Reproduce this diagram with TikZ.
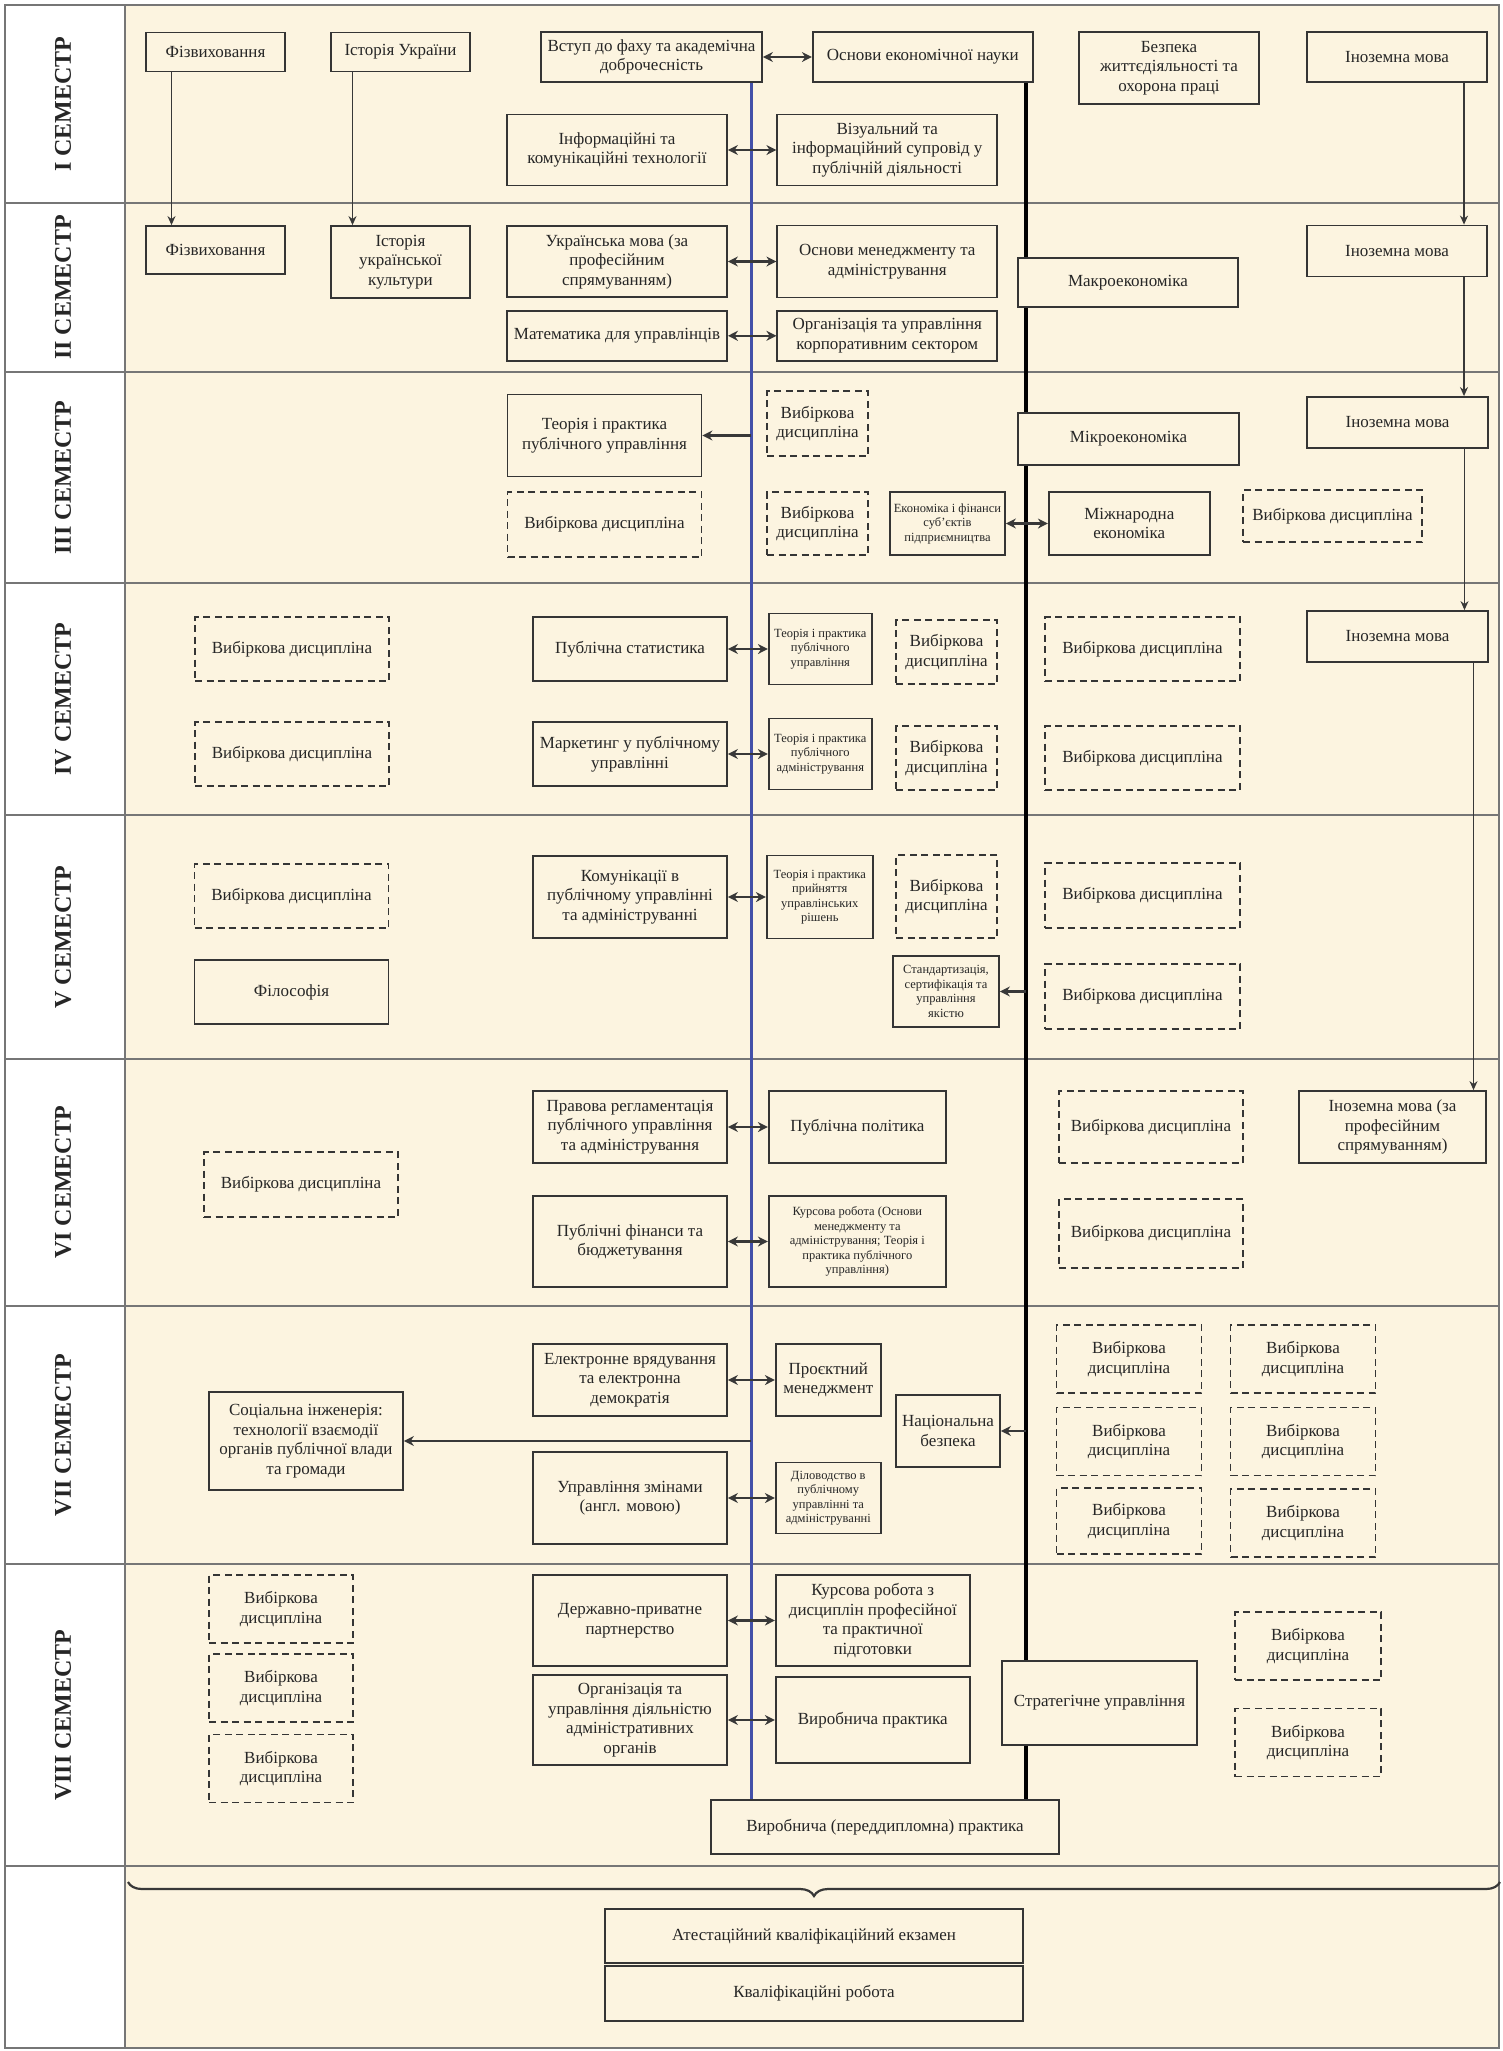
\documentclass[tikz,border=0pt]{standalone}
\usepackage{fontspec}
\setmainfont{Liberation Serif}
\usetikzlibrary{arrows.meta, positioning, decorations.pathreplacing}

\definecolor{cream}{HTML}{FCF4E0}
\definecolor{boxline}{HTML}{353535}
\definecolor{arrowgray}{HTML}{383838}
\definecolor{rowgray}{HTML}{767676}
\definecolor{lineblue}{HTML}{4350A8}

\tikzstyle{subject} = [rectangle, draw=boxline, fill=cream, line width=1.8pt, align=center, inner sep=1.5pt, text=black!85, font=\fontsize{17}{19.5}\selectfont]
\tikzstyle{elective} = [subject, dash pattern=on 7pt off 4.5pt]
\tikzstyle{smallsubj} = [subject, font=\fontsize{12.5}{14.5}\selectfont]
\tikzstyle{semester} = [rotate=90, text=black!85, font=\fontsize{24}{26}\selectfont\bfseries]
\tikzstyle{arrow} = [line width=2.2pt, draw=arrowgray, ->, >={Stealth[length=10pt,width=10pt]}]
\tikzstyle{dblarrow} = [arrow, <->]
\tikzstyle{thinarrow} = [line width=1.3pt, draw=arrowgray, ->, >={Stealth[length=9pt,width=8pt]}]
\tikzstyle{blueline} = [line width=3pt, draw=lineblue]
\tikzstyle{blackline} = [line width=3.5pt, draw=black]
\tikzstyle{rowline} = [line width=1.8pt, draw=rowgray]
\tikzstyle{groupbrace} = [decorate, decoration={brace, amplitude=14pt}, line width=2.2pt, draw=arrowgray]

\pgfdeclarelayer{back}
\pgfdeclarelayer{lines}
\pgfsetlayers{back,lines,main}

\begin{document}
\begin{tikzpicture}[x=1pt, y=-1pt]
\useasboundingbox (0,0) rectangle (1503,2051);

% Frame and semester rows
\begin{pgfonlayer}{back}
\fill[white] (5,5) rectangle (125,2048);
\fill[cream] (125,5) rectangle (1499,2048);
\draw[rowline] (5,5) rectangle (1499,2048);
\draw[rowline] (125,5) -- (125,2048);
\draw[rowline] (5,203) -- (1499,203);
\draw[rowline] (5,372) -- (1499,372);
\draw[rowline] (5,583) -- (1499,583);
\draw[rowline] (5,815) -- (1499,815);
\draw[rowline] (5,1059) -- (1499,1059);
\draw[rowline] (5,1306) -- (1499,1306);
\draw[rowline] (5,1564) -- (1499,1564);
\draw[rowline] (5,1866) -- (1499,1866);
\end{pgfonlayer}

\node (s1) [semester] at (63,104) {I СЕМЕСТР};
\node (s2) [semester] at (63,287.5) {II СЕМЕСТР};
\node (s3) [semester] at (63,477.5) {III СЕМЕСТР};
\node (s4) [semester] at (63,699) {IV СЕМЕСТР};
\node (s5) [semester] at (63,937) {V СЕМЕСТР};
\node (s6) [semester] at (63,1182.5) {VI СЕМЕСТР};
\node (s7) [semester] at (63,1435) {VII СЕМЕСТР};
\node (s8) [semester] at (63,1715) {VIII СЕМЕСТР};

\coordinate (bl) at (751,0);
\coordinate (bk) at (1026,0);

% Semester I
\node (fiz1) [subject, minimum width=139pt, minimum height=39pt] at (215.5,52) {Фізвиховання};
\node (ist1) [subject, minimum width=139pt, minimum height=39pt] at (400.5,52) {Історія України};
\node (vstup) [subject, minimum width=221pt, minimum height=50pt] at (651.5,57) {Вступ до фаху та академічна\\доброчесність};
\node (osnek) [subject, minimum width=220pt, minimum height=50pt, right=49pt of vstup] {Основи економічної науки};
\node (bzhd) [subject, minimum width=180pt, minimum height=72pt] at (1169,68) {Безпека\\життєдіяльності та\\охорона праці};
\node (in1) [subject, minimum width=180pt, minimum height=50pt] at (1397,57) {Іноземна мова};
\node (ikt) [subject, minimum width=220pt, minimum height=71pt] at (617,150) {Інформаційні та\\комунікаційні технології};
\node (viz) [subject, minimum width=220pt, minimum height=71pt, right=48.5pt of ikt] {Візуальний та\\інформаційний супровід у\\публічній діяльності};

% Semester II
\node (fiz2) [subject, minimum width=139pt, minimum height=48pt] at (215.5,250) {Фізвиховання};
\node (kult) [subject, minimum width=139pt, minimum height=72pt] at (400.5,262) {Історія\\української\\культури};
\node (ukrmova) [subject, minimum width=220pt, minimum height=71pt] at (617,261.5) {Українська мова (за\\професійним\\спрямуванням)};
\node (matem) [subject, minimum width=220pt, minimum height=50pt, below=12pt of ukrmova] {Математика для управлінців};
\node (osnmen) [subject, minimum width=220pt, minimum height=72pt, right=48.5pt of ukrmova] {Основи менеджменту та\\адміністрування};
\node (orgkorp) [subject, minimum width=220pt, minimum height=50pt, right=48.5pt of matem] {Організація та управління\\корпоративним сектором};
\node (makro) [subject, minimum width=220pt, minimum height=49pt] at (1128,282.5) {Макроекономіка};
\node (in2) [subject, minimum width=180pt, minimum height=51pt] at (1397,251) {Іноземна мова};

% Semester III
\node (tpu) [subject, minimum width=194pt, minimum height=82pt] at (604.5,435.5) {Теорія і практика\\публічного управління};
\node (vib3a) [elective, minimum width=101pt, minimum height=65pt] at (817.5,423.5) {Вибіркова\\дисципліна};
\node (vib3b) [elective, minimum width=194pt, minimum height=65pt] at (604.5,524.5) {Вибіркова дисципліна};
\node (vib3c) [elective, minimum width=101pt, minimum height=63pt] at (817.5,523.5) {Вибіркова\\дисципліна};
\node (ekfin) [smallsubj, minimum width=115pt, minimum height=63pt] at (947.5,523.5) {Економіка і фінанси\\суб’єктів\\підприємництва};
\node (mizhn) [subject, minimum width=161pt, minimum height=63pt, right=42pt of ekfin] {Міжнародна\\економіка};
\node (mikro) [subject, minimum width=221pt, minimum height=52pt] at (1128.5,439) {Мікроекономіка};
\node (in3) [subject, minimum width=181pt, minimum height=51pt] at (1397.5,422.5) {Іноземна мова};
\node (vib3d) [elective, minimum width=179pt, minimum height=52pt] at (1332.5,516) {Вибіркова дисципліна};

% Semester IV
\node (vib4a) [elective, minimum width=194pt, minimum height=64pt] at (292,649) {Вибіркова дисципліна};
\node (pubstat) [subject, minimum width=194pt, minimum height=64pt] at (630,649) {Публічна статистика};
\node (tpu4) [smallsubj, minimum width=103pt, minimum height=71pt, right=40pt of pubstat] {Теорія і практика\\публічного\\управління};
\node (vib4b) [elective, minimum width=101pt, minimum height=64pt] at (946.5,652) {Вибіркова\\дисципліна};
\node (vib4c) [elective, minimum width=195pt, minimum height=64pt] at (1142.5,649) {Вибіркова дисципліна};
\node (in4) [subject, minimum width=181pt, minimum height=51pt] at (1397.5,636.5) {Іноземна мова};
\node (vib4d) [elective, minimum width=194pt, minimum height=64pt] at (292,754) {Вибіркова дисципліна};
\node (market) [subject, minimum width=194pt, minimum height=64pt] at (630,754) {Маркетинг у публічному\\управлінні};
\node (tpa4) [smallsubj, minimum width=103pt, minimum height=71pt, right=40pt of market] {Теорія і практика\\публічного\\адміністрування};
\node (vib4e) [elective, minimum width=101pt, minimum height=64pt] at (946.5,758) {Вибіркова\\дисципліна};
\node (vib4f) [elective, minimum width=195pt, minimum height=64pt] at (1142.5,758) {Вибіркова дисципліна};

% Semester V
\node (vib5a) [elective, minimum width=194pt, minimum height=64pt] at (291.5,896) {Вибіркова дисципліна};
\node (filos) [subject, minimum width=194pt, minimum height=64pt] at (291.5,992) {Філософія};
\node (komun) [subject, minimum width=194pt, minimum height=82pt] at (630,897) {Комунікації в\\публічному управлінні\\та адмініструванні};
\node (tppur) [smallsubj, minimum width=106pt, minimum height=83pt, right=38pt of komun] {Теорія і практика\\прийняття\\управлінських\\рішень};
\node (vib5b) [elective, minimum width=101pt, minimum height=83pt] at (946.5,896.5) {Вибіркова\\дисципліна};
\node (standart) [smallsubj, minimum width=106pt, minimum height=71pt] at (946,991.5) {Стандартизація,\\сертифікація та\\управління\\якістю};
\node (vib5c) [elective, minimum width=195pt, minimum height=65pt] at (1142.5,895.5) {Вибіркова дисципліна};
\node (vib5d) [elective, minimum width=195pt, minimum height=65pt] at (1142.5,996.5) {Вибіркова дисципліна};

% Semester VI
\node (pravova) [subject, minimum width=194pt, minimum height=72pt] at (630,1127) {Правова регламентація\\публічного управління\\та адміністрування};
\node (pubpol) [subject, minimum width=177pt, minimum height=72pt, right=40pt of pravova] {Публічна політика};
\node (pubfin) [subject, minimum width=194pt, minimum height=91pt] at (630,1241.5) {Публічні фінанси та\\бюджетування};
\node (kurs6) [smallsubj, minimum width=177pt, minimum height=91pt, right=40pt of pubfin] {Курсова робота (Основи\\менеджменту та\\адміністрування; Теорія і\\практика публічного\\управління)};
\node (vib6a) [elective, minimum width=194pt, minimum height=65pt] at (301,1184.5) {Вибіркова дисципліна};
\node (vib6b) [elective, minimum width=184pt, minimum height=72pt] at (1151,1127) {Вибіркова дисципліна};
\node (vib6c) [elective, minimum width=184pt, minimum height=69pt] at (1151,1233.5) {Вибіркова дисципліна};
\node (inprof) [subject, minimum width=187pt, minimum height=72pt] at (1392.5,1127) {Іноземна мова (за\\професійним\\спрямуванням)};

% Semester VII
\node (evr) [subject, minimum width=194pt, minimum height=72pt] at (630,1380) {Електронне врядування\\та електронна\\демократія};
\node (proekt) [subject, minimum width=105pt, minimum height=72pt, right=47pt of evr] {Проєктний\\менеджмент};
\node (socing) [subject, minimum width=194pt, minimum height=98pt] at (306,1441) {Соціальна інженерія:\\технології взаємодії\\органів публічної влади\\та громади};
\node (upzmin) [subject, minimum width=194pt, minimum height=92pt] at (630,1498) {Управління змінами\\(англ. мовою)};
\node (dilovod) [smallsubj, minimum width=105pt, minimum height=71pt, right=47pt of upzmin] {Діловодство в\\публічному\\управлінні та\\адмініструванні};
\node (nacbez) [subject, minimum width=104pt, minimum height=72pt] at (948,1431) {Національна\\безпека};
\node (vib7a) [elective, minimum width=145pt, minimum height=68pt] at (1129,1359) {Вибіркова\\дисципліна};
\node (vib7b) [elective, minimum width=145pt, minimum height=68pt] at (1303,1359) {Вибіркова\\дисципліна};
\node (vib7c) [elective, minimum width=145pt, minimum height=68pt] at (1129,1441.5) {Вибіркова\\дисципліна};
\node (vib7d) [elective, minimum width=145pt, minimum height=68pt] at (1303,1441.5) {Вибіркова\\дисципліна};
\node (vib7e) [elective, minimum width=145pt, minimum height=66pt] at (1129,1521) {Вибіркова\\дисципліна};
\node (vib7f) [elective, minimum width=145pt, minimum height=68pt] at (1303,1523) {Вибіркова\\дисципліна};

% Semester VIII
\node (vib8a) [elective, minimum width=144pt, minimum height=68pt] at (281,1609) {Вибіркова\\дисципліна};
\node (vib8b) [elective, minimum width=144pt, minimum height=68pt] at (281,1688) {Вибіркова\\дисципліна};
\node (vib8c) [elective, minimum width=144pt, minimum height=68pt] at (281,1768.5) {Вибіркова\\дисципліна};
\node (dpp) [subject, minimum width=194pt, minimum height=91pt] at (630,1620.5) {Державно-приватне\\партнерство};
\node (kurs8) [subject, minimum width=194pt, minimum height=91pt, right=47pt of dpp] {Курсова робота з\\дисциплін професійної\\та практичної\\підготовки};
\node (orgadm) [subject, minimum width=194pt, minimum height=90pt] at (630,1720) {Організація та\\управління діяльністю\\адміністративних\\органів};
\node (virprak) [subject, minimum width=194pt, minimum height=86pt, right=47pt of orgadm] {Виробнича практика};
\node (strat) [subject, minimum width=195pt, minimum height=84pt] at (1099.5,1703) {Стратегічне управління};
\node (vib8d) [elective, minimum width=146pt, minimum height=68pt] at (1308,1646) {Вибіркова\\дисципліна};
\node (vib8e) [elective, minimum width=146pt, minimum height=68pt] at (1308,1742.5) {Вибіркова\\дисципліна};
\node (predd) [subject, minimum width=348pt, minimum height=54pt] at (885,1827) {Виробнича (переддипломна) практика};

% Final attestation
\node (atest) [subject, minimum width=418pt, minimum height=54pt] at (814,1936) {Атестаційний кваліфікаційний екзамен};
\node (kvalrob) [subject, minimum width=418pt, minimum height=55pt, below=1pt of atest] {Кваліфікаційні робота};

% Lines
\begin{pgfonlayer}{lines}
\draw [blueline] (vstup.south -| bl) -- (predd.north -| bl);
\draw [blackline] (osnek.south -| bk) -- (predd.north -| bk);
\end{pgfonlayer}

% Arrows
\draw [thinarrow] ([xshift=-44pt]fiz1.south) -- ([xshift=-44pt]fiz2.north);
\draw [thinarrow] ([xshift=-48pt]ist1.south) -- ([xshift=-48pt]kult.north);
\draw [thinarrow] ([xshift=67pt]in1.south) -- ([xshift=67pt]in2.north);
\draw [thinarrow] ([xshift=67pt]in2.south) -- ([xshift=67pt]in2.south |- in3.north);
\draw [thinarrow] ([xshift=67pt]in3.south) -- ([xshift=67pt]in3.south |- in4.north);
\draw [thinarrow] ([xshift=76pt]in4.south) -- ([xshift=76pt]in4.south |- inprof.north);

\draw [dblarrow] (vstup) -- (osnek);
\draw [dblarrow] (ikt) -- (viz);
\draw [dblarrow] (ukrmova) -- (osnmen);
\draw [dblarrow] (matem) -- (orgkorp);
\draw [dblarrow] (ekfin) -- (mizhn);
\draw [dblarrow] (pubstat) -- (tpu4);
\draw [dblarrow] (market) -- (tpa4);
\draw [dblarrow] (komun) -- (tppur);
\draw [dblarrow] (pravova) -- (pubpol);
\draw [dblarrow] (pubfin) -- (kurs6);
\draw [dblarrow] (evr) -- (proekt);
\draw [dblarrow] (upzmin) -- (dilovod);
\draw [dblarrow] (dpp) -- (kurs8);
\draw [dblarrow] (orgadm) -- (virprak);

\draw [arrow] (tpu.east -| bl) -- (tpu.east);
\draw [arrow] (socing.east -| bl) -- (socing.east);
\draw [arrow] (standart.east -| bk) -- (standart.east);
\draw [arrow] (nacbez.east -| bk) -- (nacbez.east);

\draw [groupbrace] (1500,1882) -- (128,1882);

\end{tikzpicture}
\end{document}
